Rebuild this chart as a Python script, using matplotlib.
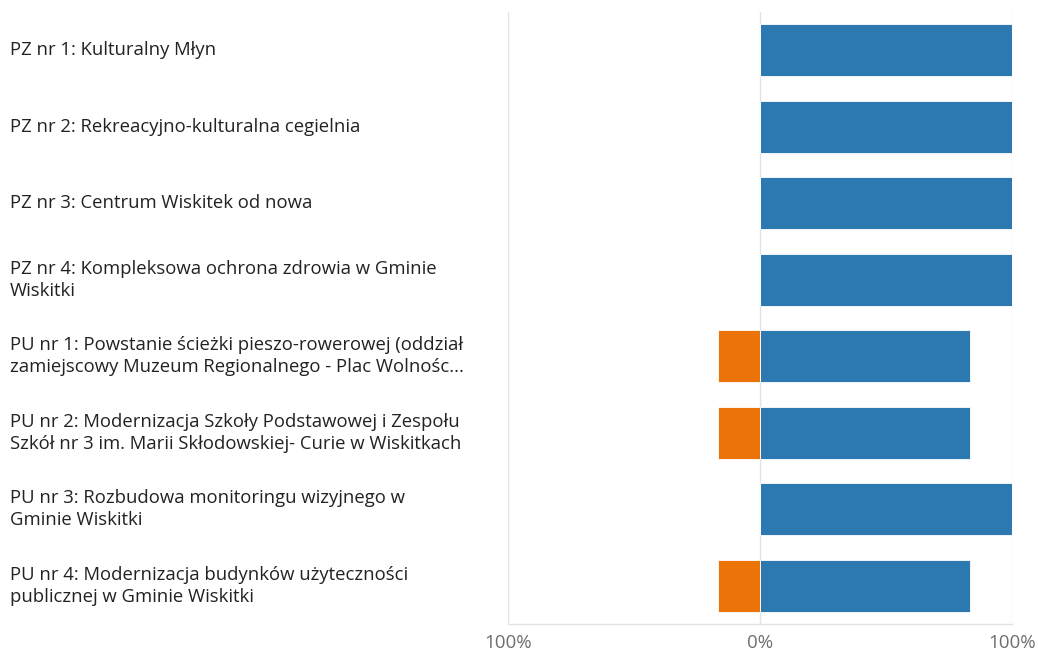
import matplotlib
matplotlib.use("Agg")
import matplotlib.pyplot as plt
from matplotlib.transforms import blended_transform_factory

categories = [
    "PZ nr 1: Kulturalny Młyn",
    "PZ nr 2: Rekreacyjno-kulturalna cegielnia",
    "PZ nr 3: Centrum Wiskitek od nowa",
    "PZ nr 4: Kompleksowa ochrona zdrowia w Gminie\nWiskitki",
    "PU nr 1: Powstanie ścieżki pieszo-rowerowej (oddział\nzamiejscowy Muzeum Regionalnego - Plac Wolnośc...",
    "PU nr 2: Modernizacja Szkoły Podstawowej i Zespołu\nSzkół nr 3 im. Marii Skłodowskiej- Curie w Wiskitkach",
    "PU nr 3: Rozbudowa monitoringu wizyjnego w\nGminie Wiskitki",
    "PU nr 4: Modernizacja budynków użyteczności\npublicznej w Gminie Wiskitki",
]
positive = [100, 100, 100, 100, 83.3, 83.3, 100, 83.3]
negative = [0, 0, 0, 0, 16.7, 16.7, 0, 16.7]
tick_values = [-100, 0, 100]
tick_labels = ["100%", "0%", "100%"]

plt.rcParams['font.family'] = ['Open Sans', 'DejaVu Sans']

fig = plt.figure(figsize=(10.38, 6.5), dpi=100)
ax = fig.add_axes([508/1038, 26/650, 504/1038, 612/650])

y = list(range(len(categories)))
ax.barh(y, positive, left=0, height=0.68, color="#2b79b0", edgecolor="#ffffff", linewidth=0.6, zorder=3)
ax.barh(y, [-v for v in negative], left=0, height=0.68, color="#ec7308", edgecolor="#ffffff", linewidth=0.6, zorder=3)

ax.set_xlim(-100, 100)
ax.set_ylim(len(categories) - 0.5, -0.5)
ax.set_xticks(tick_values)
ax.set_xticklabels(tick_labels, color="#6e6e6e", fontsize=13.5)
ax.tick_params(axis='x', length=0, pad=7)
ax.set_yticks([])
for v in tick_values:
    ax.axvline(v, color="#e3e3e3", linewidth=1, zorder=1)
for s in ["top", "left", "right"]:
    ax.spines[s].set_visible(False)
ax.spines["bottom"].set_color("#e3e3e3")
ax.spines["bottom"].set_linewidth(1)

trans = blended_transform_factory(fig.transFigure, ax.transData)
for i, c in enumerate(categories):
    ax.text(10/1038, i, c, transform=trans, ha="left", va="center",
            fontsize=13.3, color="#222222", linespacing=1.27)

fig.savefig("out.png", dpi=100)
